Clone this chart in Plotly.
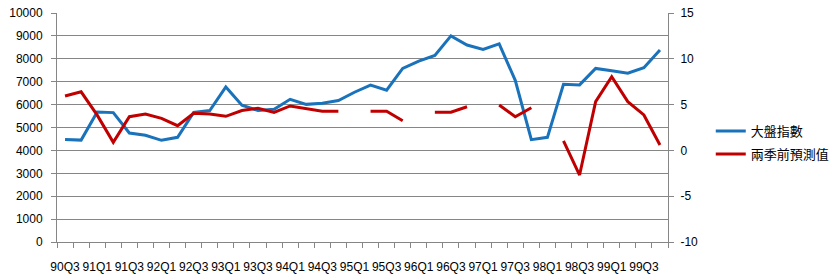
import plotly.graph_objects as go

quarters = []
for yr in range(90, 100):
    for q in range(1, 5):
        if yr == 90 and q < 3:
            continue
        quarters.append(f"{yr}Q{q}")

index_values = [4480, 4450, 5680, 5650, 4760, 4660, 4440, 4570, 5655, 5740,
                6770, 5975, 5740, 5800, 6230, 6010, 6060, 6180, 6540, 6850,
                6630, 7580, 7900, 8150, 9000, 8600, 8410, 8650, 7060, 4470,
                4570, 6890, 6860, 7580, 7480, 7370, 7610, 8380]

forecast_values = [5.94, 6.4, 3.85, 0.88, 3.68, 3.97, 3.5, 2.7, 4.05, 3.97,
                   3.72, 4.35, 4.6, 4.15, 4.85, 4.6, 4.27, 4.27, None, 4.27,
                   4.27, 3.24, None, 4.16, 4.16, 4.77, None, 4.96, 3.68, 4.66,
                   None, 1.03, -2.69, 5.32, 8.05, 5.32, 3.87, 0.59]

tick_text = [q if i % 2 == 0 else "" for i, q in enumerate(quarters)]
right_ticks = [-10, -5, 0, 5, 10, 15]

BLUE = "#1a72bb"
RED = "#c00000"
GRID = "#868686"
TICKFONT = dict(family="Liberation Sans, Arial, sans-serif", size=12, color="#000000")
LEGFONT = dict(family="Noto Sans CJK TC, sans-serif", size=13, color="#000000")

fig = go.Figure()
fig.add_trace(go.Scatter(x=quarters, y=index_values, mode="lines", name="大盤指數",
                         line=dict(color=BLUE, width=3), yaxis="y", legend="legend"))
fig.add_trace(go.Scatter(x=quarters, y=forecast_values, mode="lines", name="兩季前預測值",
                         line=dict(color=RED, width=3), yaxis="y2", connectgaps=False,
                         legend="legend2"))

fig.update_layout(
    width=836, height=280,
    margin=dict(l=57, r=168, t=13, b=38, autoexpand=False),
    paper_bgcolor="white", plot_bgcolor="white",
    xaxis=dict(type="category", range=[-0.5, len(quarters) - 0.5],
               tickmode="array", tickvals=quarters, ticktext=tick_text,
               tickson="boundaries", ticks="outside", ticklen=5, tickcolor=GRID,
               showline=True, linecolor=GRID, linewidth=1, showgrid=False,
               tickfont=TICKFONT, ticklabelstandoff=14, tickangle=0, automargin=False),
    yaxis=dict(range=[0, 10000], dtick=1000, tick0=0, tickformat="d",
               ticks="outside", ticklen=5,
               tickcolor=GRID, showline=True, linecolor=GRID, linewidth=1,
               showgrid=True, gridcolor=GRID, gridwidth=1, zeroline=False,
               tickfont=TICKFONT, ticklabelstandoff=6, automargin=False),
    yaxis2=dict(range=[-10, 15], tickmode="array", tickvals=right_ticks,
                ticktext=[str(v) for v in right_ticks],
                overlaying="y", side="right",
                ticks="outside", ticklen=5, tickcolor=GRID, showline=True,
                linecolor=GRID, linewidth=1, showgrid=False, zeroline=False,
                tickfont=TICKFONT, ticklabelstandoff=4, automargin=False),
    legend=dict(x=1.070, y=(242 - 131) / 229, xanchor="left", yanchor="middle",
                font=LEGFONT, bgcolor="rgba(0,0,0,0)", borderwidth=0),
    legend2=dict(x=1.070, y=(242 - 154) / 229, xanchor="left", yanchor="middle",
                 font=LEGFONT, bgcolor="rgba(0,0,0,0)", borderwidth=0),
    showlegend=True,
)

fig.write_html("out.html")
